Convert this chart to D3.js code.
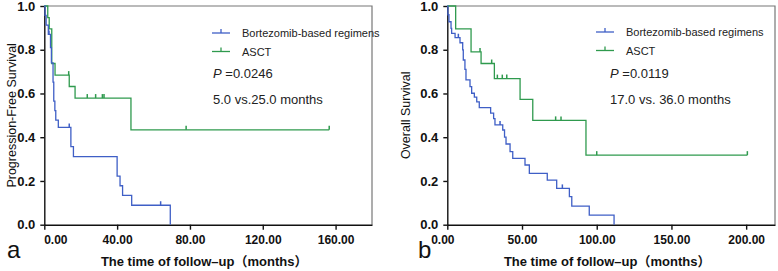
<!DOCTYPE html>
<html>
<head>
<meta charset="utf-8">
<script src="https://cdn.jsdelivr.net/npm/d3@7"></script>
<style>
  html, body { margin: 0; padding: 0; background: #fff; }
  svg { display: block; font-family: "Liberation Sans", Arial, "Noto Sans CJK SC", sans-serif; }
  .tick-lbl { font-size: 12px; font-weight: bold; fill: #111; }
  .ytick-lbl { font-size: 13px; font-weight: bold; fill: #111; }
</style>
</head>
<body>
<svg id="chart" width="778" height="271"></svg>
<script>
// Kaplan-Meier steps: [months, survival]
const pfsBortezomib = [
  [0, 1], [0.4, 0.957], [1.0, 0.913], [2.2, 0.87], [3.4, 0.81], [3.9, 0.74],
  [4.8, 0.652], [5.2, 0.565], [5.8, 0.522], [6.3, 0.478], [7.7, 0.445],
  [14.6, 0.357], [16.0, 0.311], [40.0, 0.222], [41.6, 0.178], [43.0, 0.134],
  [48.0, 0.089], [69.2, 0]
];
const pfsBortezomibCensor = [2.6, 13.7, 63.9];
const pfsAsct = [
  [0, 1], [1.9, 0.947], [2.7, 0.895], [4.1, 0.737], [5.9, 0.684], [13.7, 0.632],
  [16.9, 0.579], [47.6, 0.434], [156.5, 0.434]
];
const pfsAsctCensor = [13.4, 23.6, 28.2, 31.9, 32.8, 77.9, 156.5];

const osBortezomib = [
  [0, 1], [0.4, 0.96], [1.1, 0.928], [2.5, 0.898], [2.9, 0.875], [5.2, 0.855],
  [8.5, 0.832], [10.3, 0.799], [10.7, 0.753], [11.8, 0.71], [12.5, 0.662],
  [15.2, 0.631], [16.3, 0.601], [18.1, 0.583], [19.7, 0.562], [21.4, 0.535],
  [29.0, 0.51], [31.0, 0.485], [31.9, 0.456], [37.1, 0.433], [38.3, 0.40],
  [39.3, 0.369], [42.0, 0.334], [43.8, 0.303], [52.0, 0.273], [54.9, 0.235],
  [66.9, 0.204], [73.2, 0.166], [81.7, 0.128], [83.3, 0.085], [95.0, 0.044],
  [111.6, 0]
];
const osBortezomibCensor = [7.4, 35.3, 77.0];
const osAsct = [
  [0, 1], [5.6, 0.895], [15.9, 0.79], [22.6, 0.737], [31.5, 0.668], [48.7, 0.573],
  [57.2, 0.477], [92.8, 0.318], [200.8, 0.318]
];
const osAsctCensor = [21.9, 29.7, 33.5, 36.8, 39.8, 72.5, 76.1, 100, 200.8];

const pfsTicks = [0, 40, 80, 120, 160];
const osTicks = [0, 50, 100, 150, 200];
const yTicks = [0, 0.2, 0.4, 0.6, 0.8, 1.0];
const groupNames = ['Bortezomib-based regimens', 'ASCT'];

const BLUE = '#3f5fc6';
const GREEN = '#2f9a4e';

const svg = d3.select('#chart');

function survivalAt(steps, t) {
  let s = steps[0][1];
  steps.forEach(d => { if (d[0] <= t) s = d[1]; });
  return s;
}

function drawPanel(p) {
  const x = d3.scaleLinear().domain([0, p.xMax]).range([p.left, p.right]);
  const y = d3.scaleLinear().domain([0, 1]).range([p.bottom, p.top]);
  const g = svg.append('g');

  // frame (top + right) in grey
  g.append('path')
    .attr('d', `M${p.left},${p.top}H${p.right}V${p.bottom}`)
    .attr('fill', 'none').attr('stroke', '#777').attr('stroke-width', 1.2);

  const xAxis = g.append('g')
    .attr('transform', `translate(0,${p.bottom})`)
    .call(d3.axisBottom(x).tickValues(p.xTicks).tickFormat(d3.format('.2f')).tickSize(5).tickPadding(6).tickSizeOuter(0));
  xAxis.select('.domain').attr('stroke', '#111').attr('stroke-width', 1.4);
  xAxis.selectAll('.tick line').attr('stroke', '#111').attr('stroke-width', 1.4);
  xAxis.selectAll('.tick text').attr('class', 'tick-lbl').attr('fill', '#111')
    .attr('dx', (d, i) => (i === 0 ? p.zeroShift : 0));

  const yAxis = g.append('g')
    .attr('transform', `translate(${p.left},0)`)
    .call(d3.axisLeft(y).tickValues(yTicks).tickFormat(d3.format('.1f')).tickSize(4).tickPadding(5).tickSizeOuter(0));
  yAxis.select('.domain').attr('stroke', '#111').attr('stroke-width', 1.4);
  yAxis.selectAll('.tick line').attr('stroke', '#111').attr('stroke-width', 1.4);
  yAxis.selectAll('.tick text').attr('class', 'ytick-lbl').attr('fill', '#111');

  const line = d3.line()
    .x(d => x(d[0]))
    .y(d => y(d[1]))
    .curve(d3.curveStepAfter);

  p.series.forEach(s => {
    g.append('path')
      .datum(s.steps)
      .attr('d', line)
      .attr('fill', 'none')
      .attr('stroke', s.color)
      .attr('stroke-width', 1.3);
    g.selectAll(null)
      .data(s.censor)
      .join('line')
      .attr('x1', d => x(d)).attr('x2', d => x(d))
      .attr('y1', d => y(survivalAt(s.steps, d)))
      .attr('y2', d => y(survivalAt(s.steps, d)) - 4)
      .attr('stroke', s.color)
      .attr('stroke-width', 1.5);
  });

  // legend
  const leg = g.append('g');
  p.series.slice().reverse().forEach((s, i) => {
    const ly = p.legendY + i * 18.5;
    leg.append('line')
      .attr('x1', p.legendX).attr('x2', p.legendX + 18)
      .attr('y1', ly).attr('y2', ly)
      .attr('stroke', s.color).attr('stroke-width', 1.3);
    leg.append('line')
      .attr('x1', p.legendX + 9).attr('x2', p.legendX + 9)
      .attr('y1', ly).attr('y2', ly - 4)
      .attr('stroke', s.color).attr('stroke-width', 1.3);
    leg.append('text')
      .attr('x', p.legendX + 30).attr('y', ly + 4)
      .attr('font-size', 11).attr('fill', '#222')
      .text(s.name);
  });

  const pText = g.append('text')
    .attr('x', p.statsX).attr('y', 78)
    .attr('font-size', 13).attr('fill', '#222');
  pText.append('tspan').attr('font-style', 'italic').text('P');
  pText.append('tspan').text(' =' + p.pValue);

  g.append('text')
    .attr('x', p.statsX).attr('y', 104)
    .attr('font-size', 13).attr('fill', '#222')
    .text(p.medians);

  g.append('text')
    .attr('transform', `translate(${p.yTitleX},${(p.top + p.bottom) / 2}) rotate(-90)`)
    .attr('text-anchor', 'middle')
    .attr('font-size', 12.5).attr('fill', '#111')
    .text(p.yTitle);

  g.append('text')
    .attr('x', (p.left + p.right) / 2 - 4).attr('y', 266)
    .attr('text-anchor', 'middle')
    .attr('font-size', 13).attr('font-weight', 'bold').attr('fill', '#111')
    .text('The time of follow\u2013up\uff08months\uff09');

  g.append('text')
    .attr('x', p.letterX).attr('y', 258)
    .attr('font-size', 24).attr('fill', '#111')
    .text(p.letter);
}

drawPanel({
  left: 44.3, right: 372, top: 6, bottom: 224.7, xMax: 180,
  xTicks: pfsTicks, zeroShift: 11,
  series: [
    { name: groupNames[1], steps: pfsAsct, censor: pfsAsctCensor, color: GREEN },
    { name: groupNames[0], steps: pfsBortezomib, censor: pfsBortezomibCensor, color: BLUE }
  ],
  legendX: 212, legendY: 33, statsX: 213, pValue: '0.0246', medians: '5.0 vs.25.0 months',
  yTitle: 'Progression-Free Survival', yTitleX: 16, letter: 'a', letterX: 7
});

drawPanel({
  left: 447.3, right: 775, top: 6, bottom: 224.7, xMax: 219.3,
  xTicks: osTicks, zeroShift: -5,
  series: [
    { name: groupNames[1], steps: osAsct, censor: osAsctCensor, color: GREEN },
    { name: groupNames[0], steps: osBortezomib, censor: osBortezomibCensor, color: BLUE }
  ],
  legendX: 596, legendY: 32, statsX: 610, pValue: '0.0119', medians: '17.0 vs. 36.0 months',
  yTitle: 'Overall Survival', yTitleX: 410, letter: 'b', letterX: 418
});
</script>
</body>
</html>
